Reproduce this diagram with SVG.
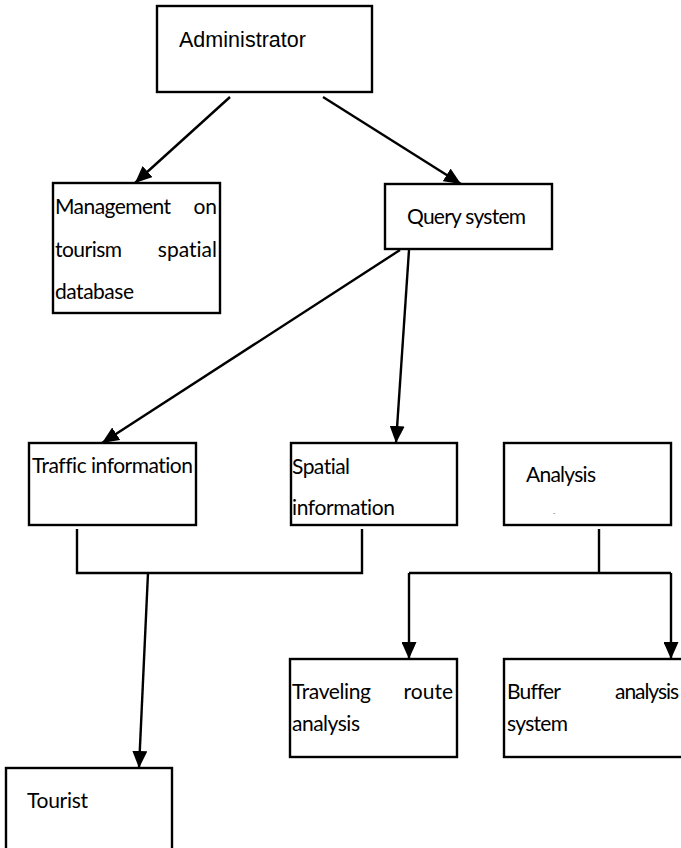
<svg xmlns="http://www.w3.org/2000/svg" width="681" height="848" viewBox="0 0 681 848">
  <style>
    .box { fill: #ffffff; stroke: #000000; stroke-width: 2.4; }
    .edge { fill: none; stroke: #000000; stroke-width: 2.4; }
    .arrow { marker-end: url(#head); }
    .t { font-family: Lato, "Open Sans", "Liberation Sans", sans-serif; font-size: 21px; fill: #000000; font-variant-ligatures: none; }
    .ta { font-family: "Liberation Sans", Arial, sans-serif; font-size: 21.5px; fill: #000000; }
  </style>
  <defs>
    <marker id="head" markerUnits="userSpaceOnUse" markerWidth="17" markerHeight="15" viewBox="0 0 17 15" refX="17" refY="7.5" orient="auto">
      <path d="M0,0 L17,7.5 L0,15 Z" fill="#000000"/>
    </marker>
  </defs>

  <rect width="681" height="848" fill="#ffffff"/>

  <!-- connectors -->
  <g id="connectors">
    <line class="edge arrow" x1="230" y1="97" x2="135" y2="183"/>
    <line class="edge arrow" x1="323" y1="97" x2="461" y2="184"/>
    <line class="edge arrow" x1="400" y1="250" x2="102" y2="443"/>
    <line class="edge arrow" x1="409" y1="250" x2="396" y2="443"/>
    <polyline class="edge" points="77,529 77,573 362,573 362,529"/>
    <line class="edge arrow" x1="148" y1="573" x2="139" y2="768"/>
    <line class="edge" x1="599" y1="529" x2="599" y2="573"/>
    <line class="edge" x1="409" y1="573" x2="671" y2="573"/>
    <line class="edge arrow" x1="409" y1="573" x2="409" y2="659"/>
    <line class="edge arrow" x1="671" y1="573" x2="671" y2="659"/>
  </g>

  <g id="administrator">
    <rect class="box" x="157" y="6" width="215" height="86"/>
    <text class="ta" x="179" y="47" textLength="127">Administrator</text>
  </g>

  <g id="management">
    <rect class="box" x="53" y="183" width="167" height="130"/>
    <text class="t" x="55" y="214" textLength="116">Management</text>
    <text class="t" x="217" y="214" text-anchor="end">on</text>
    <text class="t" x="55" y="257" textLength="67">tourism</text>
    <text class="t" x="217" y="257" text-anchor="end">spatial</text>
    <text class="t" x="55" y="299" textLength="79">database</text>
  </g>

  <g id="query">
    <rect class="box" x="385" y="184" width="167" height="65"/>
    <text class="t" x="407" y="224" textLength="119">Query system</text>
  </g>

  <g id="traffic">
    <rect class="box" x="29" y="443" width="167" height="82"/>
    <text class="t" x="32" y="473" textLength="161">Traffic information</text>
  </g>

  <g id="spatial">
    <rect class="box" x="291" y="443" width="166" height="82"/>
    <text class="t" x="292" y="474" textLength="58">Spatial</text>
    <text class="t" x="292" y="515" textLength="103">information</text>
  </g>

  <g id="analysis">
    <rect class="box" x="504" y="443" width="167" height="82"/>
    <text class="t" x="526" y="482" textLength="70">Analysis</text>
    <text class="t" x="553" y="515" style="font-size:6px">-</text>
  </g>

  <g id="traveling">
    <rect class="box" x="290" y="659" width="167" height="98"/>
    <text class="t" x="292" y="699" textLength="79">Traveling</text>
    <text class="t" x="453" y="699" text-anchor="end">route</text>
    <text class="t" x="292" y="731" textLength="68">analysis</text>
  </g>

  <g id="buffer">
    <rect class="box" x="504" y="659" width="190" height="98"/>
    <text class="t" x="507" y="699" textLength="54">Buffer</text>
    <text class="t" x="615" y="699" textLength="64">analysis</text>
    <text class="t" x="507" y="731" textLength="61">system</text>
  </g>

  <g id="tourist">
    <rect class="box" x="6" y="768" width="166" height="90"/>
    <text class="t" x="27" y="808" textLength="61">Tourist</text>
  </g>
</svg>
